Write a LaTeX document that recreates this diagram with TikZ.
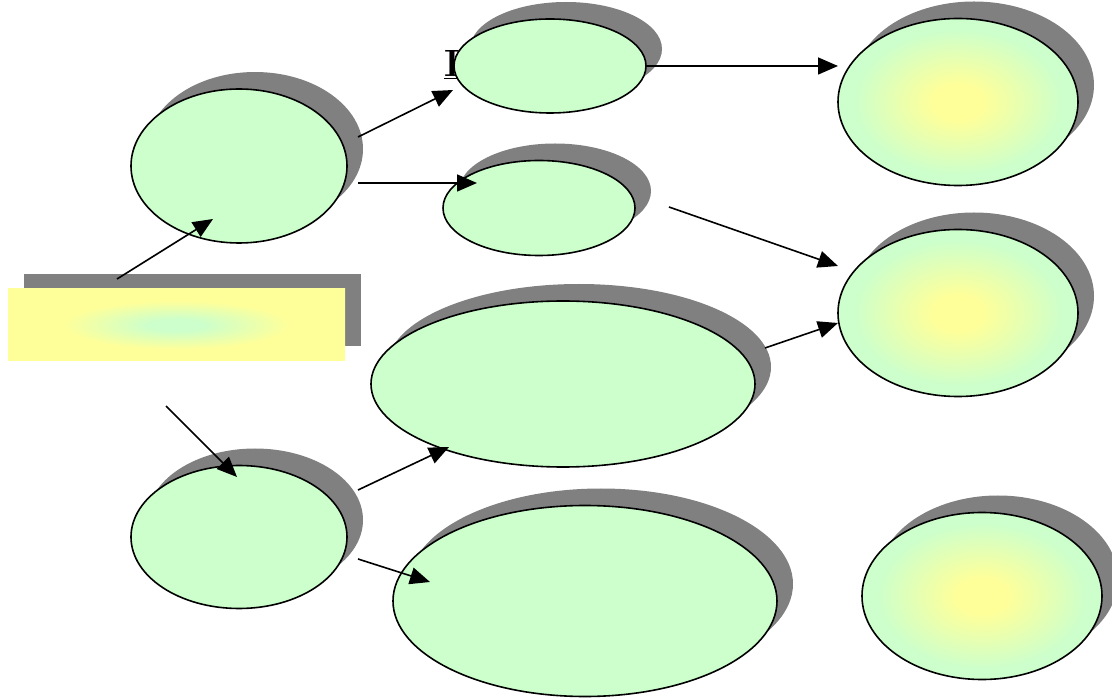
\documentclass[tikz,border=0pt]{standalone}
\usetikzlibrary{shapes.geometric,shadows,arrows.meta}
\definecolor{grn}{HTML}{CCFFCC}
\definecolor{yel}{HTML}{FFFF99}
\definecolor{shd}{HTML}{808080}
\pgfdeclareradialshading{ellshade}{\pgfpoint{0bp}{0bp}}{color(0bp)=(yel); color(5bp)=(yel); color(22bp)=(grn); color(50bp)=(grn)}
\pgfdeclareradialshading{rectshade}{\pgfpoint{0bp}{0bp}}{color(0bp)=(grn); color(4bp)=(grn); color(17bp)=(yel); color(50bp)=(yel)}
\begin{document}
\begin{tikzpicture}[x=1pt,y=-1pt,
  bubble/.style={ellipse, draw=black, line width=1.6pt, fill=grn, inner sep=0pt,
    drop shadow={shadow xshift=16pt, shadow yshift=17pt, fill=shd, opacity=1}},
  sunbubble/.style={bubble, shade, shading=ellshade},
  titlebox/.style={rectangle, inner sep=0pt, shade, shading=rectshade, minimum width=337pt, minimum height=72pt,
    drop shadow={shadow xshift=16pt, shadow yshift=15pt, fill=shd, opacity=1}},
  link/.style={-{Triangle[length=20pt,width=17pt]}, line width=1.6pt}]
\useasboundingbox (0,0) rectangle (1112,700);

% hidden label fragment
\node[anchor=base west, inner sep=0pt] (lbl) at (444,77) {\fontsize{38}{40}\selectfont\textbf{\underline{I}}};

\node[bubble, minimum width=216pt, minimum height=154pt] (e1) at (239,166) {};
\node[bubble, minimum width=192pt, minimum height=94pt] (e2) at (550,66) {};
\node[bubble, minimum width=192pt, minimum height=95pt] (e3) at (539,208) {};
\node[bubble, minimum width=384pt, minimum height=166pt] (e4) at (563,384) {};
\node[bubble, minimum width=216pt, minimum height=143pt] (e5) at (239,537) {};
\node[bubble, minimum width=384pt, minimum height=191pt] (e6) at (585,601) {};
\node[sunbubble, minimum width=240pt, minimum height=167pt] (r1) at (958,102) {};
\node[sunbubble, minimum width=240pt, minimum height=167pt] (r2) at (958,313) {};
\node[sunbubble, minimum width=240pt, minimum height=167pt] (r3) at (982,596) {};

\node[titlebox] (title) at (176.5,325) {};

% connector end points
\coordinate (a1s) at (358,137); \coordinate (a1e) at (453,90);
\coordinate (a2s) at (358,183); \coordinate (a2e) at (477,183);
\coordinate (a3s) at (646,66);  \coordinate (a3e) at (838,66);
\coordinate (a4s) at (669,207); \coordinate (a4e) at (838,266);
\coordinate (a5s) at (765,348); \coordinate (a5e) at (838,323);
\coordinate (a6s) at (117,279); \coordinate (a6e) at (213,219);
\coordinate (a7s) at (166,406); \coordinate (a7e) at (237,477);
\coordinate (a8s) at (358,490); \coordinate (a8e) at (449,447);
\coordinate (a9s) at (358,559); \coordinate (a9e) at (430,582);

\draw[link] (a1s) -- (a1e);
\draw[link] (a2s) -- (a2e);
\draw[link] (a3s) -- (a3e);
\draw[link] (a4s) -- (a4e);
\draw[link] (a5s) -- (a5e);
\draw[link] (a6s) -- (a6e);
\draw[link] (a7s) -- (a7e);
\draw[link] (a8s) -- (a8e);
\draw[link] (a9s) -- (a9e);
\end{tikzpicture}
\end{document}
